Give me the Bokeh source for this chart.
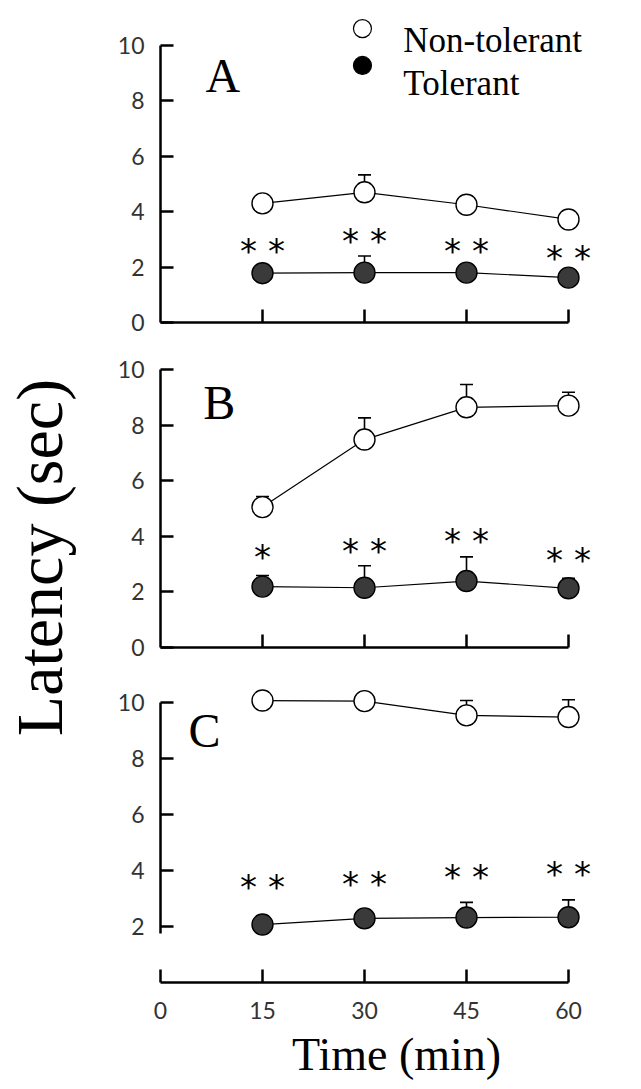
from bokeh.plotting import figure
from bokeh.models import Range1d, FixedTicker, Label
from bokeh.layouts import row, column
from bokeh.core.properties import value
from bokeh.embed import file_html
from bokeh.resources import INLINE
import math

# ---------------- data ----------------
TIME = [15, 30, 45, 60]
X_TICKS_TOP = [15, 30, 45, 60]
X_TICKS_BOTTOM = [0, 15, 30, 45, 60]
Y_TICKS = [0, 2, 4, 6, 8, 10]
Y_TICKS_C = [2, 4, 6, 8, 10]

A_NONTOL = [4.30, 4.70, 4.25, 3.72]
A_NONTOL_ERR = [0.25, 0.63, 0.25, 0.25]
A_TOL = [1.78, 1.80, 1.80, 1.62]
A_TOL_ERR = [0.25, 0.60, 0.25, 0.25]
A_STARS = ["* *", "* *", "* *", "* *"]
A_STAR_Y = [2.70, 3.04, 2.68, 2.45]

B_NONTOL = [5.05, 7.48, 8.64, 8.70]
B_NONTOL_ERR = [0.38, 0.78, 0.82, 0.48]
B_TOL = [2.19, 2.15, 2.39, 2.13]
B_TOL_ERR = [0.40, 0.79, 0.87, 0.36]
B_STARS = ["*", "* *", "* *", "* *"]
B_STAR_Y = [3.35, 3.59, 3.95, 3.25]

C_NONTOL = [10.07, 10.05, 9.54, 9.48]
C_NONTOL_ERR = [0.25, 0.25, 0.53, 0.62]
C_TOL = [2.07, 2.29, 2.32, 2.33]
C_TOL_ERR = [0.25, 0.25, 0.54, 0.62]
C_STARS = ["* *", "* *", "* *", "* *"]
C_STAR_Y = [3.51, 3.63, 3.87, 3.98]

SERIES_NAMES = ["Non-tolerant", "Tolerant"]

# ---------------- styling ----------------
SERIF = "Liberation Serif"
TICK_FONT = "Lato"
FILL_DARK = "#3a3a3a"
PX_PER_MIN = 6.8
FRAME_W = 472
X_END = FRAME_W / PX_PER_MIN
PANEL_W = 553


def style_axes(p, x_ticks, y_ticks, y_bounds, show_x_labels):
    p.grid.visible = False
    p.outline_line_color = None
    p.background_fill_color = "white"
    p.border_fill_color = "white"
    for ax in (p.xaxis[0], p.yaxis[0]):
        ax.axis_line_width = 2.5
        ax.axis_line_color = "black"
        ax.major_tick_line_width = 2.5
        ax.major_tick_line_color = "black"
        ax.major_tick_in = 13
        ax.major_tick_out = 0
        ax.minor_tick_in = 0
        ax.minor_tick_out = 0
        ax.major_label_text_font = TICK_FONT
        ax.major_label_text_font_size = "23px"
        ax.major_label_text_color = "#333333"
    p.xaxis[0].ticker = FixedTicker(ticks=x_ticks, minor_ticks=[])
    p.xaxis[0].bounds = (0, 60)
    p.yaxis[0].ticker = FixedTicker(ticks=y_ticks, minor_ticks=[])
    p.yaxis[0].bounds = y_bounds
    p.yaxis[0].major_label_standoff = 16
    if show_x_labels:
        p.xaxis[0].major_label_standoff = 19
    else:
        # x ticks of the upper panels carry no numbers
        p.xaxis[0].major_label_text_color = None
        p.xaxis[0].major_label_text_font_size = "1px"
        p.xaxis[0].major_label_standoff = 0


def draw_series(p, ys, errs, fill):
    tops = [y + e for y, e in zip(ys, errs)]
    p.line(TIME, ys, line_color="black", line_width=1.2)
    p.segment(x0=TIME, y0=ys, x1=TIME, y1=tops, line_color="black", line_width=1.6)
    p.scatter(TIME, tops, marker="dash", size=13, line_color="black", line_width=1.6)
    p.scatter(TIME, ys, marker="circle", size=21, fill_color=fill,
              line_color="black", line_width=1.4)


def draw_stars(p, ys, texts):
    p.text(x=TIME, y=ys, text=texts, text_font=value("DejaVu Sans"),
           text_font_size="34px", text_align="center",
           text_baseline="alphabetic", y_offset=3, text_color="black")


def panel_letter(p, x, y, letter):
    p.add_layout(Label(x=x, y=y, text=letter, text_font=SERIF,
                       text_font_size="48px", text_align="left",
                       text_baseline="alphabetic", text_color="black"))


def make_panel(height, top, bottom, y_end, x_ticks, y_ticks, y_bounds, show_x_labels):
    p = figure(width=PANEL_W, height=height, x_range=Range1d(0, X_END),
               y_range=Range1d(0, y_end), output_backend="svg",
               toolbar_location=None, min_border_left=72, min_border_right=9,
               min_border_top=top, min_border_bottom=bottom)
    style_axes(p, x_ticks, y_ticks, y_bounds, show_x_labels)
    return p


# Panel A
pa = make_panel(340, 10, 18, 312 / 27.7, X_TICKS_TOP, Y_TICKS, (0, 10), False)
draw_series(pa, A_NONTOL, A_NONTOL_ERR, "white")
draw_series(pa, A_TOL, A_TOL_ERR, FILL_DARK)
draw_stars(pa, A_STAR_Y, A_STARS)
panel_letter(pa, 6.6, 8.92, "A")
# legend
pa.scatter([29.7], [10.61], marker="circle", size=18, fill_color="white",
           line_color="black", line_width=1.2)
pa.scatter([29.7], [9.28], marker="circle", size=18, fill_color="black",
           line_color="black", line_width=1.2)
pa.add_layout(Label(x=35.7, y=10.18, text=SERIES_NAMES[0], text_font=SERIF,
                    text_font_size="35px", text_baseline="alphabetic",
                    text_color="black"))
pa.add_layout(Label(x=35.7, y=8.63, text=SERIES_NAMES[1], text_font=SERIF,
                    text_font_size="35px", text_baseline="alphabetic",
                    text_color="black"))

# Panel B
pb = make_panel(325, 0, 18, 307 / 27.8, X_TICKS_TOP, Y_TICKS, (0, 10), False)
draw_series(pb, B_NONTOL, B_NONTOL_ERR, "white")
draw_series(pb, B_TOL, B_TOL_ERR, FILL_DARK)
draw_stars(pb, B_STAR_Y, B_STARS)
panel_letter(pb, 6.3, 8.81, "B")

# Panel C
pc = make_panel(424, 0, 107, 317 / 28.0, X_TICKS_BOTTOM, Y_TICKS_C, (1.75, 10), True)
draw_series(pc, C_NONTOL, C_NONTOL_ERR, "white")
draw_series(pc, C_TOL, C_TOL_ERR, FILL_DARK)
draw_stars(pc, C_STAR_Y, C_STARS)
panel_letter(pc, 4.1, 8.99, "C")
pc.add_layout(Label(x=-1.9, y=0, text="0", text_font=TICK_FONT,
                    text_font_size="23px", text_align="right",
                    text_baseline="middle", text_color="#333333"))
pc.xaxis[0].axis_label = "Time (min)"
pc.xaxis[0].axis_label_text_font = SERIF
pc.xaxis[0].axis_label_text_font_size = "46px"
pc.xaxis[0].axis_label_text_font_style = "normal"
pc.xaxis[0].axis_label_text_color = "black"
pc.xaxis[0].axis_label_standoff = 7

# Shared y label column
pl = figure(width=88, height=1089, x_range=Range1d(0, 1), y_range=Range1d(0, 1),
            output_backend="svg", toolbar_location=None, x_axis_type=None,
            y_axis_type=None, min_border=0)
pl.grid.visible = False
pl.outline_line_color = None
pl.text(x=[0.44], y=[0.4885], text=["Latency (sec)"], angle=math.pi / 2,
        text_font=value(SERIF), text_font_size="66px", text_align="center",
        text_baseline="middle", text_color="black")

layout = row(pl, column(pa, pb, pc, spacing=0), spacing=0)

open("out.html", "w").write(file_html(layout, INLINE))
